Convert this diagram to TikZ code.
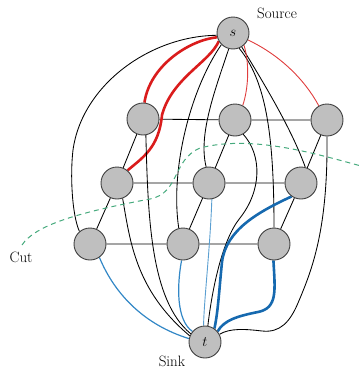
\documentclass[tikz,border=0pt]{standalone}
\usepackage{tikz}
\usetikzlibrary{backgrounds}
\tikzset{>=latex}
\definecolor{sred}{RGB}{218, 28, 28}
\definecolor{tblue}{RGB}{22, 105, 175}
\definecolor{lblue}{RGB}{50, 135, 198}
\definecolor{cutgreen}{RGB}{70, 170, 125}
\tikzset{
    pix/.style={circle, draw=black!75, fill=gray!50, line width=0.9pt, minimum size=32pt, inner sep=0pt},
    nlink/.style={line width=0.85pt},
    sthick/.style={draw=sred, line width=2.6pt},
    sthin/.style={draw=sred!85!white, line width=0.9pt},
    tthick/.style={draw=tblue, line width=2.6pt},
    tthin/.style={draw=lblue, line width=1.2pt},
    cut/.style={draw=cutgreen, line width=1pt, dash pattern=on 5pt off 4pt},
}

\begin{document}
\begin{tikzpicture}[x=1pt, y=-1pt, font=\fontsize{15}{18}\selectfont]
    \useasboundingbox (0, 0)rectangle(361, 370);
    \node[pix] (s) at (233, 33) {$s$};
    \node[pix] (t) at (205, 342) {$t$};
    \node[pix] (p11) at (143, 119) {};
    \node[pix] (p12) at (235, 120) {};
    \node[pix] (p13) at (327, 120) {};
    \node[pix] (p21) at (117, 183) {};
    \node[pix] (p22) at (209, 183) {};
    \node[pix] (p23) at (301, 183) {};
    \node[pix] (p31) at (90, 244) {};
    \node[pix] (p32) at (183, 244) {};
    \node[pix] (p33) at (274, 244) {};
    \node (src) at (277, 13) {Source};
    \node (snk) at (172, 361) {Sink};
    \node (cutlbl) at (21, 257) {Cut};
    \begin{scope}[on background layer]
        % neighbour links
        \draw[nlink](p11)--(p12)--(p13) (p21)--(p22)--(p23) (p31)--(p32)--(p33);
        \draw[nlink](p11)--(p21)--(p31) (p12)--(p22)--(p32) (p13)--(p23)--(p33);
        % links to s
        \draw[nlink](s.188) .. controls (150, 36) and (82, 85) .. (73, 150) .. controls (70, 175) and (72, 215) .. (p31.130);
        \draw[nlink](s.-135) .. controls (190, 90) and (170, 170) .. (p32.105);
        \draw[nlink](s.-105) .. controls (215, 90) and (198, 135) .. (p22.100);
        \draw[nlink](s.-58) .. controls (265, 85) and (292, 130) .. (p23.75);
        \draw[nlink](s.-68) .. controls (265, 80) and (274, 130) .. (p33.north);
        \draw[sthin](s.-48) .. controls (250, 65) and (248, 90) .. (p12.62);
        \draw[sthin](s.-25) .. controls (280, 55) and (305, 80) .. (p13.120);
        \draw[sthick](s.195) .. controls (190, 40) and (150, 65) .. (p11.85);
        \draw[sthick](s.210) .. controls (210, 62) and (172, 78) .. (162, 115) .. controls (159, 148) and (142, 158) .. (p21.50);
        % links to t
        \draw[nlink](p11.-80) .. controls (148, 215) and (150, 300) .. (t.150);
        \draw[nlink](p21.-70) .. controls (130, 240) and (135, 290) .. (t.158);
        \draw[nlink](p12.-60) .. controls (262, 155) and (262, 190) .. (240, 218) .. controls (222, 240) and (212, 290) .. (t.80);
        \draw[nlink](p13.south) .. controls (328, 230) and (312, 270) .. (298, 303) .. controls (290, 322) and (280, 333) .. (262, 331) .. controls (245, 329) and (230, 328) .. (t.28);
        \draw[tthin](p31.-55) .. controls (115, 295) and (145, 325) .. (t.168);
        \draw[tthin](p32.-95) .. controls (177, 285) and (176, 320) .. (t.140);
        \draw[tthin, line width=0.9pt, lblue!80](p22.-80) .. controls (210, 250) and (204, 300) .. (t.95);
        \draw[tthick](p23.-125) .. controls (258, 212) and (226, 230) .. (222, 262) .. controls (219, 292) and (218, 312) .. (t.55);
        \draw[tthick](p33.-92) .. controls (275, 290) and (278, 308) .. (258, 312) .. controls (238, 316) and (224, 320) .. (t.40);
    \end{scope}
    \draw[cut](22, 245) .. controls (35, 225) and (80, 212) .. (150, 199) .. controls (180, 193) and (172, 160) .. (200, 148) .. controls (250, 135) and (310, 152) .. (361, 166);
\end{tikzpicture}
\end{document}
